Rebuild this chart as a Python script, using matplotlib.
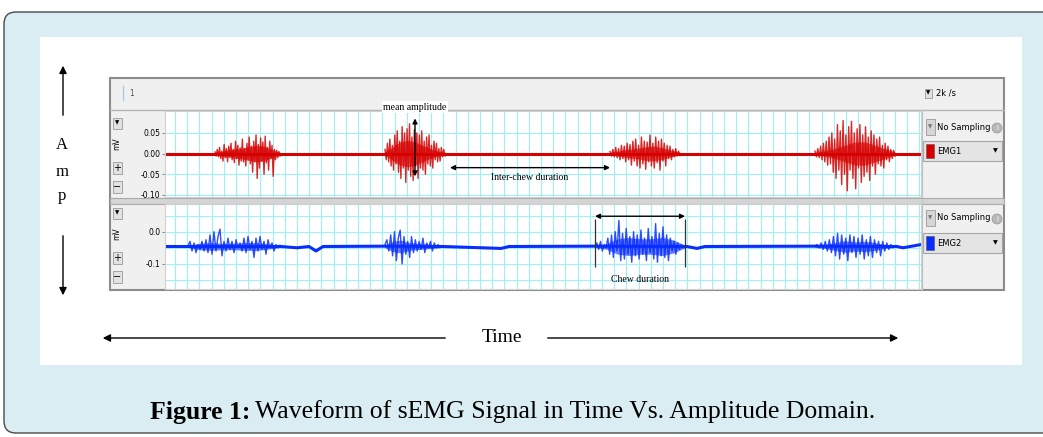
import matplotlib
matplotlib.use('Agg')
import matplotlib.pyplot as plt
import numpy as np
from matplotlib.patches import Rectangle, FancyBboxPatch, Circle

# ---- data (mV, time in s) ----
emg1_bursts = [(2.5, 5.75), (11.0, 14.0), (22.25, 25.75), (32.5, 36.5)]
emg1_b1 = [0.004, -0.006, 0.010, -0.008, 0.015, -0.012, 0.006, -0.018, 0.022, -0.010, 0.012, -0.020, 0.018,
           -0.008, 0.025, -0.015, 0.010, -0.022, 0.030, -0.012, 0.020, -0.028, 0.014, -0.018, 0.035, -0.020,
           0.012, -0.030, 0.025, -0.015, 0.040, -0.025, 0.018, -0.045, 0.030, -0.020, 0.045, -0.060, 0.022,
           -0.035, 0.038, -0.018, 0.028, -0.050, 0.042, -0.022, 0.015, -0.040, 0.030, -0.012, 0.020, -0.055,
           0.010, -0.015, 0.008, -0.010, 0.005, -0.006]
emg1_b2 = [0.010, -0.015, 0.025, -0.020, 0.035, -0.030, 0.020, -0.040, 0.045, -0.025, 0.055, -0.045, 0.030,
           -0.060, 0.065, -0.035, 0.050, -0.070, 0.060, -0.040, 0.072, -0.055, 0.040, -0.065, 0.058, -0.030,
           0.050, -0.060, 0.045, -0.035, 0.055, -0.040, 0.030, -0.050, 0.040, -0.025, 0.045, -0.030, 0.020,
           -0.035, 0.030, -0.015, 0.025, -0.020, 0.012, -0.018, 0.015, -0.008, 0.010, -0.006]
emg1_b3 = [0.005, -0.006, 0.010, -0.008, 0.015, -0.010, 0.012, -0.015, 0.020, -0.012, 0.018, -0.020, 0.025,
           -0.015, 0.022, -0.028, 0.030, -0.018, 0.035, -0.030, 0.020, -0.035, 0.040, -0.025, 0.030, -0.038,
           0.028, -0.020, 0.045, -0.030, 0.025, -0.035, 0.040, -0.022, 0.030, -0.040, 0.035, -0.018, 0.025,
           -0.030, 0.020, -0.012, 0.018, -0.015, 0.010, -0.008, 0.012, -0.006, 0.006, -0.005]
emg1_b4 = [0.006, -0.008, 0.012, -0.010, 0.018, -0.015, 0.025, -0.020, 0.030, -0.028, 0.040, -0.025, 0.050,
           -0.045, 0.035, -0.060, 0.070, -0.040, 0.055, -0.075, 0.080, -0.050, 0.045, -0.090, 0.065, -0.040,
           0.078, -0.060, 0.050, -0.085, 0.060, -0.035, 0.070, -0.070, 0.045, -0.055, 0.065, -0.045, 0.040,
           -0.065, 0.055, -0.030, 0.045, -0.050, 0.035, -0.025, 0.040, -0.030, 0.020, -0.035, 0.025, -0.015,
           0.018, -0.020, 0.010, -0.012, 0.008, -0.006]
# half-width of the dense core of each burst
emg1_core = [[0.003, 0.006, 0.010, 0.012, 0.016, 0.020, 0.018, 0.010, 0.003],
             [0.004, 0.016, 0.028, 0.032, 0.028, 0.020, 0.012, 0.006, 0.003],
             [0.003, 0.006, 0.010, 0.012, 0.016, 0.018, 0.014, 0.008, 0.003],
             [0.003, 0.006, 0.012, 0.020, 0.028, 0.028, 0.020, 0.012, 0.004]]
emg1_base_t = [0.0, 37.8]
emg1_base_v = [0.0, 0.0]

emg2_bursts = [(1.15, 5.75), (11.0, 13.75), (21.5, 26.0), (32.5, 36.5)]
emg2_b1 = [-0.045, -0.030, -0.060, -0.035, -0.065, -0.040, -0.055, -0.030, -0.060, -0.025, -0.065, -0.010,
           -0.070, 0.000, -0.060, -0.015, 0.008, -0.075, -0.030, -0.060, -0.020, -0.055, -0.030, -0.065, -0.025,
           -0.050, -0.035, -0.060, -0.020, -0.065, -0.015, -0.055, -0.030, -0.080, -0.020, -0.060, -0.015,
           -0.055, -0.030, -0.070, -0.025, -0.050, -0.035, -0.060, -0.040, -0.050, -0.042]
emg2_b2 = [-0.040, -0.025, -0.060, -0.010, -0.075, 0.000, -0.090, -0.020, 0.005, -0.100, -0.015, -0.070, -0.030,
           -0.080, -0.015, -0.065, -0.025, -0.060, -0.030, -0.055, -0.020, -0.065, -0.035, -0.050, -0.030,
           -0.060, -0.035, -0.050, -0.040, -0.048]
emg2_b3 = [-0.045, -0.035, -0.055, -0.030, -0.060, -0.040, -0.050, -0.020, -0.070, -0.010, -0.080, 0.000,
           -0.060, 0.035, -0.090, -0.005, -0.085, 0.010, -0.070, -0.015, -0.095, 0.000, -0.075, -0.010, -0.085,
           0.005, -0.070, -0.020, -0.090, 0.010, -0.065, -0.015, -0.085, 0.025, -0.095, -0.005, -0.075, 0.015,
           -0.080, -0.010, -0.090, -0.020, -0.060, -0.030, -0.070, -0.035, -0.055, -0.040, -0.050, -0.045]
emg2_b4 = [-0.045, -0.040, -0.050, -0.035, -0.055, -0.030, -0.060, -0.025, -0.065, -0.015, -0.075, -0.005,
           -0.085, -0.010, -0.070, -0.020, -0.090, -0.010, -0.065, -0.015, -0.080, -0.020, -0.070, -0.010,
           -0.085, -0.025, -0.075, -0.015, -0.080, -0.025, -0.065, -0.030, -0.075, -0.030, -0.060, -0.035,
           -0.055, -0.040, -0.050, -0.045]
emg2_core = [[0.003, 0.010, 0.012, 0.010, 0.010, 0.012, 0.012, 0.008, 0.003],
             [0.004, 0.016, 0.020, 0.012, 0.010, 0.008, 0.006, 0.004],
             [0.003, 0.008, 0.024, 0.028, 0.024, 0.024, 0.028, 0.020, 0.004],
             [0.003, 0.006, 0.012, 0.018, 0.014, 0.016, 0.012, 0.006, 0.003]]
emg2_level = -0.046
emg2_base_t = [0, 5.8, 6.6, 7.2, 7.55, 7.9, 10.9, 13.9, 16.8, 17.2, 21.4, 26.1, 26.6, 27.0, 32.4, 36.6, 36.9, 37.8]
emg2_base_v = [-0.046, -0.046, -0.050, -0.046, -0.060, -0.046, -0.045, -0.046, -0.052, -0.046, -0.045, -0.046,
               -0.052, -0.046, -0.045, -0.046, -0.050, -0.040]

emg1_ticks = [0.05, 0.0, -0.05, -0.10]
emg1_ticklabels = ['0.05', '0.00', '-0.05', '-0.10']
emg2_ticks = [0.0, -0.1]
emg2_ticklabels = ['0.0', '-0.1']

RED = '#d60000'
BLUE = '#0a2dff'
GRID = '#9ff0f5'
PANEL = '#f0f0f0'
NARROW = ['Liberation Sans Narrow', 'DejaVu Sans']
SERIF = ['Liberation Serif', 'DejaVu Serif']

W, H = 1043, 437
fig = plt.figure(figsize=(W / 100, H / 100), dpi=100)
fig.patch.set_facecolor('white')

# background layer in pixel coordinates
bg = fig.add_axes([0, 0, 1, 1], zorder=0)
bg.set_xlim(0, W)
bg.set_ylim(H, 0)
bg.axis('off')
bg.add_patch(FancyBboxPatch((4, 12), 1150, 421, boxstyle='round,pad=0,rounding_size=12',
                            fc='#d9edf3', ec='#4a4a4a', lw=1))
bg.add_patch(Rectangle((40, 37), 982, 328, fc='white', ec='none'))
# screen frame
bg.add_patch(Rectangle((110, 78), 894, 212, fc=PANEL, ec='#8c8c8c', lw=1.5))
bg.plot([110, 1004], [110, 110], color='#b5b5b5', lw=1)
bg.add_patch(Rectangle((110, 198), 894, 6, fc='#d5d5d5', ec='#aaaaaa', lw=0.8))
bg.plot([922, 922], [110, 290], color='#c0c0c0', lw=0.8)
bg.plot([123, 123], [86, 100], color='#a8c8ee', lw=1)
bg.text(129, 93, '1', fontsize=5.5, family=NARROW, color='#555555', va='center')


def button(x, y, label, w=9, h=11, fs=4.5, fc='#e2e2e2', color='black'):
    bg.add_patch(Rectangle((x - w / 2, y - h / 2), w, h, fc=fc, ec='#9a9a9a', lw=0.6))
    bg.text(x, y, label, fontsize=fs, ha='center', va='center', color=color)


button(928, 93, '▼', w=7, h=9, fs=4)
bg.text(936, 93, '2k /s', fontsize=6, family=NARROW, va='center')

# left control column and right channel panels
for ch, (ytop, col, name) in enumerate([(117, RED, 'EMG1'), (207, BLUE, 'EMG2')]):
    button(117, ytop + 6, '▼', fs=4)
    bg.text(117, ytop + 27, 'mV', fontsize=5.5, family=NARROW, rotation=90, ha='center', va='center')
    button(117, ytop + 51, '+', fs=7, h=12)
    button(117, ytop + 70, '−', fs=7, h=12)

    ys = ytop + 10 if ch == 0 else ytop + 11
    button(930, ys, '▼', w=9, h=16, fs=4, fc='#d6d6d6', color='#777777')
    bg.text(937, ys, 'No Sampling', fontsize=6, family=NARROW, va='center')
    bg.add_patch(Circle((997, ys + 1), 5, fc='#b8b8b8', ec='#999999', lw=0.5))
    bg.text(997, ys + 1, 'i', fontsize=5, ha='center', va='center', color='white')
    yb = ys + 24 if ch == 0 else ys + 25
    bg.add_patch(Rectangle((923, yb - 10), 79, 20, fc='#e4e4e4', ec='#a5a5a5', lw=0.8))
    bg.add_patch(Rectangle((926, yb - 7), 8, 14, fc=col, ec='#555555', lw=0.4))
    bg.text(937, yb, name, fontsize=6, family=NARROW, va='center')
    bg.text(995, yb, '▼', fontsize=4.5, ha='center', va='center')

# Amp / Time arrows
ap = dict(arrowstyle='-|>', color='black', lw=1, mutation_scale=11)
bg.annotate('', xy=(63, 63), xytext=(63, 118), arrowprops=ap)
bg.annotate('', xy=(63, 298), xytext=(63, 233), arrowprops=ap)
for y, s in [(145, 'A'), (172, 'm'), (196, 'p')]:
    bg.text(62, y, s, fontsize=12, family=SERIF, ha='center', va='center')
bg.annotate('', xy=(100, 338), xytext=(448, 338), arrowprops=ap)
bg.annotate('', xy=(901, 338), xytext=(545, 338), arrowprops=ap)
bg.text(502, 337, 'Time', fontsize=14, family=SERIF, ha='center', va='center')

# caption
t1 = bg.text(150, 412, 'Figure 1:', fontsize=18.5, family=SERIF, weight='bold', va='center')
fig.canvas.draw()
bb = t1.get_window_extent()
x1 = bg.transData.inverted().transform((bb.x1, bb.y0))[0]
bg.text(x1 + 5, 412, 'Waveform of sEMG Signal in Time Vs. Amplitude Domain.', fontsize=18.5, family=SERIF,
        va='center')


def channel_axes(top, bottom, ylim, ticks, labels):
    ax = fig.add_axes([165 / W, 1 - bottom / H, (921 - 165) / W, (bottom - top) / H], zorder=2)
    ax.set_facecolor('white')
    ax.set_xlim(0, 37.8)
    ax.set_ylim(*ylim)
    ax.set_xticks(np.arange(0.5, 37.8, 0.61))
    ax.set_yticks(ticks)
    ax.set_yticklabels(labels, family=NARROW)
    ax.tick_params(axis='x', length=0, labelbottom=False)
    ax.tick_params(axis='y', length=2, width=0.6, color='#777777', labelsize=5.5, pad=1.5)
    ax.grid(True, color=GRID, lw=0.8)
    ax.set_axisbelow(True)
    for s in ax.spines.values():
        s.set_color('#d0d0d0')
        s.set_linewidth(0.8)
    return ax


ax1 = channel_axes(111, 197, (-0.105, 0.103), emg1_ticks, emg1_ticklabels)
ax2 = channel_axes(204, 289, (-0.178, 0.086), emg2_ticks, emg2_ticklabels)
ax2.set_yticks([0.05, -0.05, -0.15], minor=True)
ax2.tick_params(axis='y', which='minor', length=0)
ax2.grid(True, which='minor', axis='y', color=GRID, lw=0.8)


def draw_channel(ax, base_t, base_v, level, bursts, spikes, cores, col):
    ax.plot(base_t, base_v, color=col, lw=2.2)
    for (t0, t1_), vals, core in zip(bursts, spikes, cores):
        tc = np.linspace(t0, t1_, len(core))
        ax.fill_between(tc, level - np.array(core), level + np.array(core), color=col, alpha=0.6, lw=0)
        ax.plot(np.linspace(t0, t1_, len(vals)), vals, color=col, lw=1.0, alpha=0.85)


draw_channel(ax1, emg1_base_t, emg1_base_v, 0.0, emg1_bursts,
             [emg1_b1, emg1_b2, emg1_b3, emg1_b4], emg1_core, RED)
draw_channel(ax2, emg2_base_t, emg2_base_v, emg2_level, emg2_bursts,
             [emg2_b1, emg2_b2, emg2_b3, emg2_b4], emg2_core, BLUE)

# annotations
dap = dict(arrowstyle='<|-|>', color='black', lw=1, mutation_scale=7, shrinkA=0, shrinkB=0)
ax1.annotate('', xy=(12.5, 0.085), xytext=(12.5, -0.055), arrowprops=dap, annotation_clip=False)
ax1.text(12.5, 0.112, 'mean amplitude', fontsize=7, family=SERIF, ha='center', va='center', clip_on=False,
         bbox=dict(fc='white', ec='none', pad=1))
ax1.annotate('', xy=(14.25, -0.034), xytext=(22.25, -0.034), arrowprops=dap)
ax1.text(18.25, -0.057, 'Inter-chew duration', fontsize=7, family=SERIF, ha='center', va='center')
ax2.annotate('', xy=(21.5, 0.048), xytext=(26.0, 0.048), arrowprops=dap)
ax2.vlines([21.5, 26.0], -0.11, 0.04, color='#333333', lw=0.9)
ax2.text(23.75, -0.150, 'Chew duration', fontsize=7, family=SERIF, ha='center', va='center')

fig.savefig('out.png', dpi=100, facecolor=fig.get_facecolor())
